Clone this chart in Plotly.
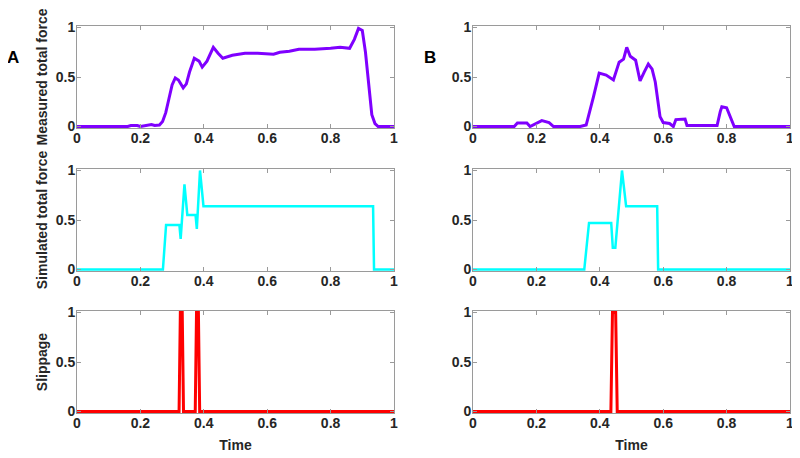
import plotly.graph_objects as go

# ---------------- data ----------------
# A: measured total force
a_meas_t = [0, 0.16, 0.17, 0.19, 0.20, 0.22, 0.235, 0.245, 0.26, 0.27, 0.28, 0.29, 0.30,
            0.31, 0.32, 0.335, 0.345, 0.355, 0.37, 0.385, 0.395, 0.41, 0.43, 0.445, 0.46,
            0.49, 0.53, 0.57, 0.60, 0.62, 0.64, 0.67, 0.70, 0.75, 0.80, 0.83, 0.86,
            0.875, 0.888, 0.90, 0.91, 0.92, 0.93, 0.94, 0.95, 1.0]
a_meas_f = [0, 0, 0.01, 0.01, 0, 0.01, 0.02, 0.01, 0.015, 0.05, 0.14, 0.28, 0.42,
            0.49, 0.47, 0.39, 0.43, 0.55, 0.69, 0.66, 0.60, 0.66, 0.80, 0.74, 0.69,
            0.72, 0.74, 0.74, 0.73, 0.73, 0.75, 0.76, 0.78, 0.78, 0.79, 0.80, 0.79,
            0.88, 0.99, 0.97, 0.75, 0.40, 0.12, 0.03, 0, 0]

# B: measured total force
b_meas_t = [0, 0.13, 0.14, 0.16, 0.17, 0.18, 0.20, 0.217, 0.24, 0.254, 0.338, 0.357,
            0.38, 0.398, 0.42, 0.443, 0.461, 0.475, 0.485, 0.496, 0.513, 0.527, 0.54,
            0.553, 0.565, 0.575, 0.59, 0.60, 0.62, 0.632, 0.64, 0.669, 0.675, 0.77,
            0.78, 0.785, 0.80, 0.824, 1.0]
b_meas_f = [0, 0, 0.035, 0.035, 0.035, 0, 0.03, 0.06, 0.04, 0, 0, 0.015,
            0.30, 0.54, 0.52, 0.47, 0.65, 0.68, 0.80, 0.71, 0.67, 0.46, 0.55,
            0.63, 0.58, 0.45, 0.10, 0.04, 0.03, 0, 0.07, 0.075, 0.01, 0.01,
            0.15, 0.20, 0.19, 0, 0]

# A: simulated total force
a_sim_t = [0, 0.271, 0.281, 0.323, 0.327, 0.339, 0.348, 0.374, 0.378, 0.388, 0.399,
           0.934, 0.937, 1.0]
a_sim_f = [0, 0, 0.45, 0.45, 0.31, 0.86, 0.55, 0.55, 0.41, 1.0, 0.64,
           0.64, 0, 0]

# B: simulated total force
b_sim_t = [0, 0.351, 0.366, 0.436, 0.441, 0.449, 0.47, 0.483, 0.581, 0.584, 1.0]
b_sim_f = [0, 0, 0.47, 0.47, 0.22, 0.22, 1.0, 0.64, 0.64, 0, 0]

# A: slippage
a_slip_t = [0, 0.322, 0.326, 0.332, 0.336, 0.373, 0.377, 0.383, 0.387, 1.0]
a_slip_v = [0, 0, 1, 1, 0, 0, 1, 1, 0, 0]

# B: slippage
b_slip_t = [0, 0.435, 0.44, 0.45, 0.455, 1.0]
b_slip_v = [0, 0, 1, 1, 0, 0]

x_ticks = [0, 0.2, 0.4, 0.6, 0.8, 1]
x_tick_text = ["0", "0.2", "0.4", "0.6", "0.8", "1"]
y_ticks = [0, 0.5, 1]
y_tick_text = ["0", "0.5", "1"]

y_titles = ["Measured total force", "Simulated total force", "Slippage"]
x_title = "Time"
panel_labels = ["A", "B"]

PURPLE = "#7F00FF"
CYAN = "#00FFFF"
RED = "#FF0000"

# ---------------- figure ----------------
# the page body has an 8px margin, so the figure is 792x450 placed at (8, 8)
OFF = 8
W, H = 792, 450
fig = go.Figure()


def dx(px):
    return (px - OFF) / W


def dy(py):
    return 1 - (py - OFF) / H


col_dom = [[dx(77), dx(394)], [dx(473), dx(790)]]
row_px = [(26, 128), (169, 271), (311, 413)]
row_dom = [[dy(b), dy(t)] for (t, b) in row_px]

series = [
    [(a_meas_t, a_meas_f, PURPLE, 3), (b_meas_t, b_meas_f, PURPLE, 3)],
    [(a_sim_t, a_sim_f, CYAN, 2.5), (b_sim_t, b_sim_f, CYAN, 2.5)],
    [(a_slip_t, a_slip_v, RED, 3), (b_slip_t, b_slip_v, RED, 3)],
]

FAM = "Liberation Sans, Arial, sans-serif"
tick_font = dict(family=FAM, size=14, color="#262626", weight="bold")
title_font = dict(family=FAM, size=14, color="#262626", weight="bold")
AX = "#9a9a9a"

layout = dict(width=W, height=H, margin=dict(l=0, r=0, t=0, b=0), template="none",
              paper_bgcolor="white", plot_bgcolor="white", showlegend=False)

idx = 0
for r in range(3):
    for c in range(2):
        idx += 1
        xa = "x" if idx == 1 else f"x{idx}"
        ya = "y" if idx == 1 else f"y{idx}"
        t, v, col, lw = series[r][c]
        fig.add_trace(go.Scatter(x=t, y=v, mode="lines", xaxis=xa, yaxis=ya,
                                 line=dict(color=col, width=lw), hoverinfo="skip"))
        xkey = "xaxis" if idx == 1 else f"xaxis{idx}"
        ykey = "yaxis" if idx == 1 else f"yaxis{idx}"
        layout[xkey] = dict(domain=col_dom[c], anchor=ya, range=[0, 1], automargin=False,
                            tickvals=x_ticks, ticktext=x_tick_text, ticks="inside",
                            ticklen=4, tickcolor=AX, showline=True, linecolor=AX,
                            linewidth=1, mirror="ticks", showgrid=False, zeroline=False,
                            tickfont=tick_font, fixedrange=True, ticklabelstandoff=-3,
                            title=dict(text=x_title if r == 2 else "", font=title_font,
                                       standoff=10))
        layout[ykey] = dict(domain=row_dom[r], anchor=xa, range=[-0.015, 1.015],
                            automargin=False, ticklabelstandoff=-2,
                            tickvals=y_ticks, ticktext=y_tick_text, ticks="inside",
                            ticklen=4, tickcolor=AX, showline=True, linecolor=AX,
                            linewidth=1, mirror="ticks", showgrid=False, zeroline=False,
                            tickfont=tick_font, fixedrange=True,
                            title=dict(text=y_titles[r] if c == 0 else "", font=title_font,
                                       standoff=4))

fig.update_layout(**layout)

for lab, xp in zip(panel_labels, [13, 430]):
    fig.add_annotation(text=lab, x=dx(xp), y=dy(57), xref="paper", yref="paper",
                       showarrow=False, xanchor="center", yanchor="middle",
                       font=dict(family=FAM, size=17, color="black", weight="bold"))

fig.write_html("out.html")
